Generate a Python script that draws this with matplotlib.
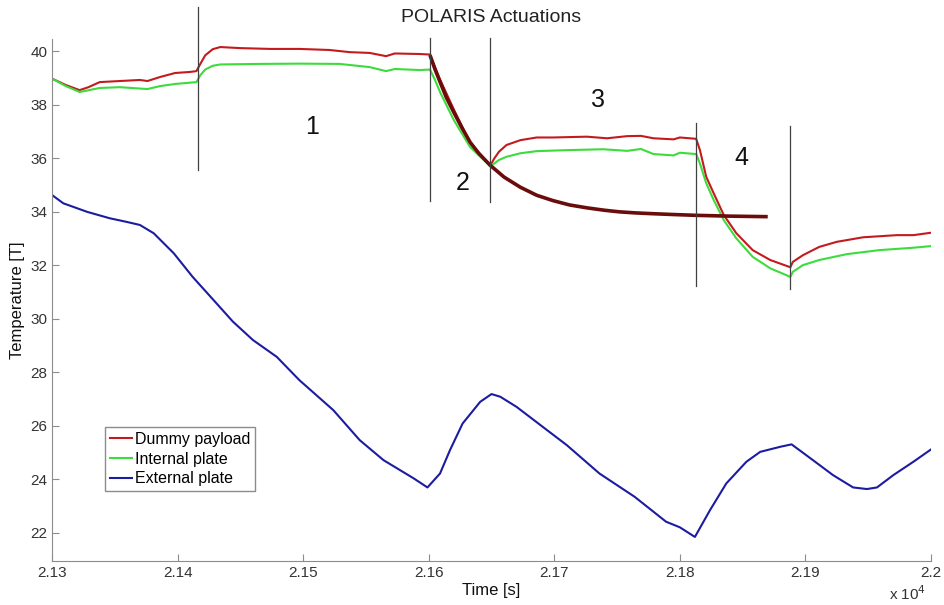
import numpy as np
import matplotlib.pyplot as plt
from matplotlib.ticker import FuncFormatter

plt.rcParams['font.family'] = ['Liberation Sans', 'DejaVu Sans']

# Dummy payload temperature
t_dummy = [21300, 21311, 21322, 21329, 21338, 21354, 21370, 21376, 21386, 21398, 21410, 21415,
           21418, 21422, 21428, 21434, 21450, 21474, 21497, 21521, 21537, 21553, 21566, 21573, 21593,
           21601, 21609, 21620, 21633, 21649,
           21652, 21656, 21662, 21673, 21686, 21699, 21726, 21742, 21758, 21769, 21779, 21795, 21800,
           21813, 21816, 21821, 21827, 21835, 21845, 21858, 21872, 21888,
           21890, 21898, 21911, 21925, 21946, 21973, 21986, 22000]
T_dummy = [38.98, 38.74, 38.55, 38.66, 38.85, 38.89, 38.93, 38.89, 39.04, 39.19, 39.23, 39.26,
           39.52, 39.85, 40.08, 40.16, 40.12, 40.09, 40.09, 40.05, 39.97, 39.94, 39.82, 39.92, 39.90,
           39.88, 38.95, 37.83, 36.58, 35.72,
           35.98, 36.25, 36.50, 36.68, 36.78, 36.78, 36.81, 36.75, 36.83, 36.84, 36.75, 36.71, 36.78,
           36.73, 36.31, 35.31, 34.69, 33.88, 33.20, 32.57, 32.20, 31.93,
           32.13, 32.38, 32.69, 32.88, 33.05, 33.13, 33.13, 33.22]

# Internal plate temperature
t_internal = [21300, 21311, 21322, 21338, 21354, 21376, 21386, 21398, 21415,
              21418, 21422, 21428, 21434, 21466, 21497, 21529, 21553, 21566, 21573, 21593, 21601,
              21605, 21609, 21620, 21633, 21649,
              21652, 21656, 21662, 21673, 21686, 21712, 21739, 21758, 21769, 21779, 21795, 21800,
              21813, 21816, 21821, 21827, 21835, 21845, 21858, 21872, 21888,
              21890, 21898, 21911, 21933, 21959, 21986, 22000]
T_internal = [38.98, 38.70, 38.48, 38.63, 38.66, 38.59, 38.70, 38.78, 38.85,
              39.10, 39.32, 39.46, 39.51, 39.53, 39.54, 39.53, 39.41, 39.26, 39.34, 39.30, 39.32,
              38.93, 38.48, 37.43, 36.42, 35.71,
              35.80, 35.94, 36.06, 36.19, 36.27, 36.31, 36.34, 36.28, 36.35, 36.16, 36.11, 36.21,
              36.16, 35.81, 35.07, 34.44, 33.69, 33.01, 32.32, 31.89, 31.57,
              31.76, 32.01, 32.20, 32.42, 32.57, 32.66, 32.72]

# External plate temperature
t_external = [21300, 21309, 21328, 21346, 21359, 21370, 21381, 21397, 21412, 21431, 21444,
              21460, 21479, 21497, 21524, 21545, 21564, 21588, 21599,
              21609, 21617, 21627, 21641, 21650, 21657, 21670, 21689, 21710, 21736, 21764,
              21789, 21800, 21812, 21824, 21837, 21853, 21864, 21880, 21889, 21906, 21922,
              21938, 21949, 21957, 21970, 21986, 22000]
T_external = [34.63, 34.32, 34.00, 33.76, 33.63, 33.51, 33.20, 32.45, 31.57, 30.58, 29.90,
              29.21, 28.58, 27.71, 26.59, 25.47, 24.72, 24.04, 23.70,
              24.22, 25.10, 26.09, 26.90, 27.19, 27.09, 26.71, 26.03, 25.28, 24.22, 23.35,
              22.42, 22.21, 21.85, 22.85, 23.85, 24.66, 25.03, 25.22, 25.31, 24.72, 24.16,
              23.70, 23.64, 23.70, 24.16, 24.66, 25.12]

# Exponential cooling fit of phase 2
t_fit = [21601, 21605, 21609, 21614, 21620, 21626, 21633, 21640, 21649, 21660, 21673, 21686,
         21699, 21712, 21726, 21740, 21752, 21765, 21779, 21795, 21813, 21840, 21870]
T_fit = [39.86, 39.33, 38.86, 38.28, 37.72, 37.18, 36.60, 36.18, 35.74, 35.30, 34.92, 34.62,
         34.42, 34.26, 34.15, 34.06, 34.00, 33.96, 33.93, 33.90, 33.87, 33.84, 33.82]

# Actuation markers: time, bottom, top
actuations_t = [21416, 21601, 21649, 21813, 21888]
actuations_lo = [35.56, 34.40, 34.35, 31.22, 31.10]
actuations_hi = [41.66, 40.50, 40.50, 37.32, 37.20]

phase_labels = ['1', '2', '3', '4']
phase_t = [21507, 21627, 21735, 21849]
phase_T = [37.17, 35.07, 38.18, 36.00]

fig = plt.figure(figsize=(9.44, 6.05), dpi=100)
ax = fig.add_axes([0.0551, 0.0727, 0.9311, 0.8628])

ax.plot(t_dummy, T_dummy, color='#c41a1e', lw=1.5, label='Dummy payload')
ax.plot(t_internal, T_internal, color='#3cdc3c', lw=1.5, label='Internal plate')
ax.plot(t_external, T_external, color='#1c1ca0', lw=1.5, label='External plate')
ax.plot(t_fit, T_fit, color='#6a0c0c', lw=2.6, solid_capstyle='butt')

for t, lo, hi in zip(actuations_t, actuations_lo, actuations_hi):
    ax.plot([t, t], [lo, hi], color='#404040', lw=0.9, clip_on=False)

for s, t, T in zip(phase_labels, phase_t, phase_T):
    ax.text(t, T, s, fontsize=18, ha='center', va='center', color='#111111')

ax.set_xlim(21300, 22000)
ax.set_ylim(20.95, 40.46)
ax.set_xticks(np.arange(21300, 22001, 100))
ax.set_yticks(np.arange(22, 41, 2))
ax.xaxis.set_major_formatter(FuncFormatter(lambda v, p: f'{v / 1e4:g}'))

for side in ['top', 'right']:
    ax.spines[side].set_visible(False)
for side in ['left', 'bottom']:
    ax.spines[side].set_color('#8c8c8c')
ax.tick_params(direction='in', length=5, width=0.8, color='#8c8c8c',
               labelsize=11, labelcolor='#333333')

ax.set_title('POLARIS Actuations', fontsize=14, color='#222222', pad=12)
ax.set_xlabel('Time [s]', fontsize=12, color='#111111', labelpad=2)
ax.set_ylabel('Temperature [T]', fontsize=12, color='#111111', labelpad=4)
ax.text(0.995, -0.062, r'x 10$^4$', transform=ax.transAxes, ha='right', va='center',
        fontsize=11, color='#333333')

leg = ax.legend(loc='upper left', bbox_to_anchor=(0.0603, 0.2567), borderaxespad=0,
                fontsize=11.5, handlelength=1.4, handletextpad=0.15, labelspacing=0.3,
                borderpad=0.3, fancybox=False, framealpha=1)
leg.get_frame().set_edgecolor('#8c8c8c')
leg.get_frame().set_linewidth(1.0)

fig.savefig('out.png', dpi=100)
